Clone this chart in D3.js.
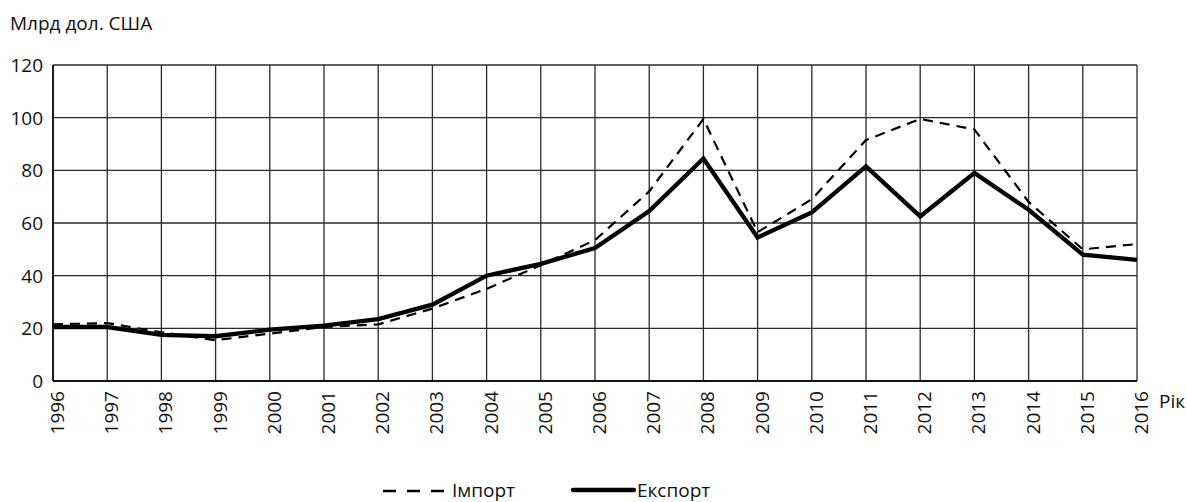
<!DOCTYPE html>
<html>
<head>
<meta charset="utf-8">
<script src="https://cdn.jsdelivr.net/npm/d3@7"></script>
<style>
  body { margin: 0; background: #fff; }
  svg text { font-family: "Open Sans", "Noto Sans", sans-serif; fill: #111; }
</style>
</head>
<body>
<svg id="chart" width="1187" height="502"></svg>
<script>
// ---------------------------------------------------------------------------
// Data (billions USD)
// ---------------------------------------------------------------------------
const years = [1996, 1997, 1998, 1999, 2000, 2001, 2002, 2003, 2004, 2005, 2006,
               2007, 2008, 2009, 2010, 2011, 2012, 2013, 2014, 2015, 2016];
const importVals = [21.5, 22, 18.5, 15.5, 18, 20.5, 21.5, 27.5, 35, 44, 53.5,
                    72, 99.5, 56.5, 69, 91.5, 99.5, 95.5, 68, 50, 52];
const exportVals = [20.5, 20.5, 17.5, 17, 19.5, 21, 23.5, 29, 40, 44.5, 50.5,
                    64.5, 84.5, 54.5, 64, 81.5, 62.5, 79, 65, 48, 46];
const yTicks = [0, 20, 40, 60, 80, 100, 120];
const yLabel = "Млрд дол. США";
const xLabel = "Рік";
const seriesNames = ["Імпорт", "Експорт"];

// ---------------------------------------------------------------------------
// Layout
// ---------------------------------------------------------------------------
const M = { left: 53, right: 1137, top: 65, bottom: 381 };
const FS = 19; // font size for all labels
const svg = d3.select("#chart");

const x = d3.scaleLinear().domain([1996, 2016]).range([M.left, M.right]);
const y = d3.scaleLinear().domain([0, 120]).range([M.bottom, M.top]);

const GRID = "#2a2a2a";

// Grid: vertical line for every year, horizontal for every tick.
const grid = svg.append("g");
grid.selectAll(".vl").data(years).join("line")
  .attr("x1", d => x(d)).attr("x2", d => x(d))
  .attr("y1", M.top).attr("y2", M.bottom)
  .attr("stroke", GRID).attr("stroke-width", 1.3);
grid.selectAll(".hl").data(yTicks).join("line")
  .attr("x1", M.left).attr("x2", M.right)
  .attr("y1", d => y(d)).attr("y2", d => y(d))
  .attr("stroke", GRID).attr("stroke-width", 1.3);

// Axes a little bolder at left / bottom
svg.append("line").attr("x1", M.left).attr("x2", M.left)
  .attr("y1", M.top).attr("y2", M.bottom).attr("stroke", "#111").attr("stroke-width", 1.8);
svg.append("line").attr("x1", M.left).attr("x2", M.right)
  .attr("y1", M.bottom).attr("y2", M.bottom).attr("stroke", "#111").attr("stroke-width", 1.8);

// Y tick labels
svg.append("g").selectAll("text").data(yTicks).join("text")
  .attr("x", M.left - 10).attr("y", d => y(d) + 7)
  .attr("text-anchor", "end").attr("font-size", FS)
  .text(d => d);

// X tick labels, rotated to read bottom-to-top
svg.append("g").selectAll("text").data(years).join("text")
  .attr("transform", d => `translate(${x(d) + 11},${M.bottom + 10}) rotate(-90)`)
  .attr("text-anchor", "end").attr("font-size", FS)
  .text(d => d);

svg.append("text").attr("x", 10).attr("y", 30).attr("font-size", FS).text(yLabel);
svg.append("text").attr("x", 1159).attr("y", 408).attr("font-size", FS).text(xLabel);

// Lines
const line = d3.line().x((d, i) => x(years[i])).y(d => y(d));

svg.append("path").datum(importVals)
  .attr("d", line).attr("fill", "none")
  .attr("stroke", "#000").attr("stroke-width", 2.2)
  .attr("stroke-dasharray", "10,7");

svg.append("path").datum(exportVals)
  .attr("d", line).attr("fill", "none")
  .attr("stroke", "#000").attr("stroke-width", 4.3)
  .attr("stroke-linejoin", "miter");

// Legend
const lg = svg.append("g");
lg.append("line").attr("x1", 383).attr("x2", 446).attr("y1", 491).attr("y2", 491)
  .attr("stroke", "#000").attr("stroke-width", 2.4).attr("stroke-dasharray", "13,11");
lg.append("text").attr("x", 452).attr("y", 497).attr("font-size", FS).text(seriesNames[0]);
lg.append("line").attr("x1", 573).attr("x2", 634).attr("y1", 490).attr("y2", 490)
  .attr("stroke", "#000").attr("stroke-width", 4.3).attr("stroke-linecap", "round");
lg.append("text").attr("x", 637).attr("y", 497).attr("font-size", FS).text(seriesNames[1]);
</script>
</body>
</html>
